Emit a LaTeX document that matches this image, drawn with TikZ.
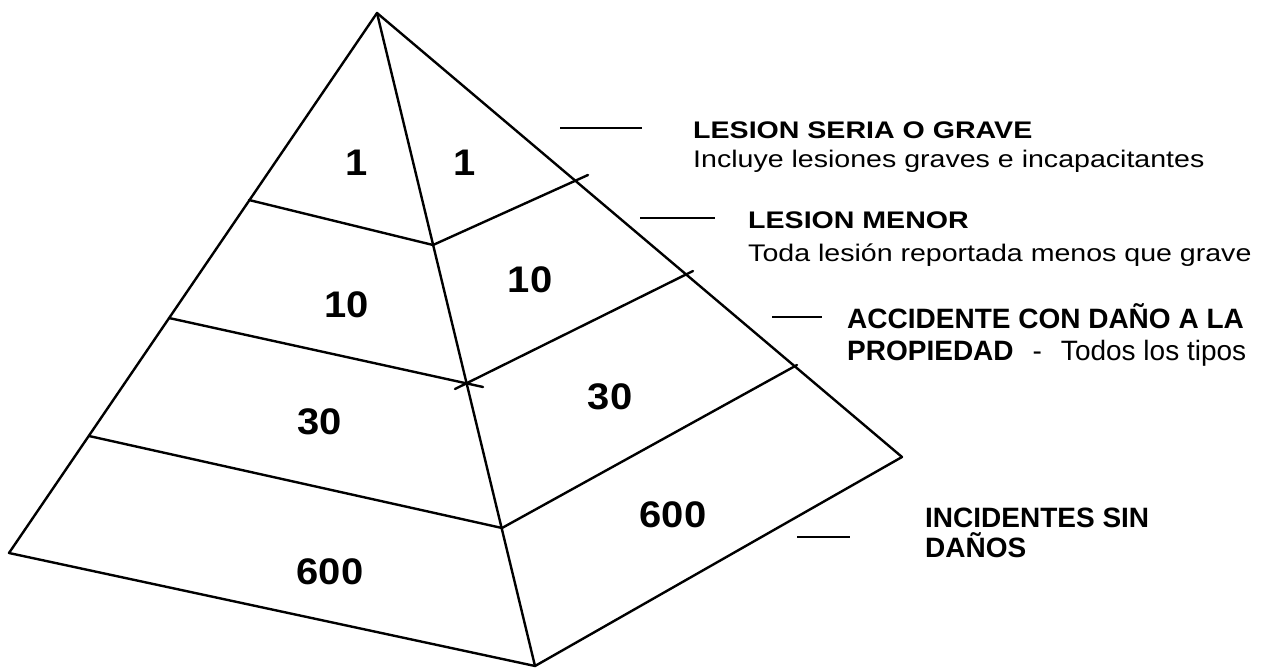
\documentclass[tikz,border=0pt]{standalone}
\usepackage{fontspec}
\setmainfont{Liberation Sans}
\newfontfamily\labfont[FakeStretch=1.19]{Liberation Sans}
\newfontfamily\numfont[FakeStretch=1.08]{Liberation Sans}
\begin{document}
\begin{tikzpicture}[x=1pt,y=-1pt,
  edge/.style={line width=2.4pt, line cap=round, line join=round},
  lead/.style={line width=2pt},
  numlbl/.style={inner sep=0pt, font=\numfont\bfseries\fontsize{37}{37}\selectfont},
  smallhead/.style={inner sep=0pt, anchor=base west, font=\labfont\bfseries\fontsize{24}{28}\selectfont},
  smalltxt/.style={inner sep=0pt, anchor=base west, font=\labfont\fontsize{24}{28}\selectfont},
  bighead/.style={inner sep=0pt, anchor=base west, font=\bfseries\fontsize{28}{32}\selectfont},
  bigtxt/.style={inner sep=0pt, anchor=base west, font=\fontsize{28}{32}\selectfont}]
\useasboundingbox (0,0) rectangle (1274,668);
% vertices
\coordinate (A) at (377,13);
\coordinate (L) at (9,553);
\coordinate (F) at (535,666);
\coordinate (R) at (902,457);
% band points
\coordinate (L1) at (249,200); \coordinate (F1) at (433,245); \coordinate (R1) at (588,175);
\coordinate (L2) at (169,318); \coordinate (F2) at (467,383); \coordinate (F2x) at (483,387);
\coordinate (F2y) at (455,389); \coordinate (R2) at (693,271);
\coordinate (L3) at (89,436); \coordinate (F3) at (502,528); \coordinate (R3) at (797,365);
% outline
\draw[edge] (A) -- (L) -- (F) -- (R) -- cycle;
\draw[edge] (A) -- (F);
% bands
\draw[edge] (L1) -- (F1) -- (R1);
\draw[edge] (L2) -- (F2x);
\draw[edge] (F2y) -- (R2);
\draw[edge] (L3) -- (F3) -- (R3);
% numbers
\node[numlbl] (n1l) at (357,163) {1};
\node[numlbl] (n1r) at (465,163) {1};
\node[numlbl] (n10l) at (347,305) {10};
\node[numlbl] (n10r) at (530,280) {10};
\node[numlbl] (n30l) at (320,422) {30};
\node[numlbl] (n30r) at (610,397) {30};
\node[numlbl] (n600l) at (330,572) {600};
\node[numlbl] (n600r) at (673,515) {600};
% leader lines
\coordinate (ld1a) at (560,128); \coordinate (ld1b) at (642,128);
\coordinate (ld2a) at (640,218); \coordinate (ld2b) at (715,218);
\coordinate (ld3a) at (772,317); \coordinate (ld3b) at (822,317);
\coordinate (ld4a) at (797,537); \coordinate (ld4b) at (850,537);
\draw[lead] (ld1a) -- (ld1b);
\draw[lead] (ld2a) -- (ld2b);
\draw[lead] (ld3a) -- (ld3b);
\draw[lead] (ld4a) -- (ld4b);
% labels
\node[smallhead] (t1a) at (693,139) {LESION SERIA O GRAVE};
\node[smalltxt] (t1b) at (693,168) {Incluye lesiones graves e incapacitantes};
\node[smallhead] (t2a) at (748,229) {LESION MENOR};
\node[smalltxt] (t2b) at (748,262) {Toda lesión reportada menos que grave};
\node[bighead] (t3a) at (847,328) {ACCIDENTE CON DAÑO A LA};
\node[bighead] (t3b) at (847,360) {PROPIEDAD\hspace{19pt}{\mdseries -\hspace{19pt}Todos los tipos}};
\node[bighead] (t4a) at (925,527) {INCIDENTES SIN};
\node[bighead] (t4b) at (925,557) {DAÑOS};
\end{tikzpicture}
\end{document}
